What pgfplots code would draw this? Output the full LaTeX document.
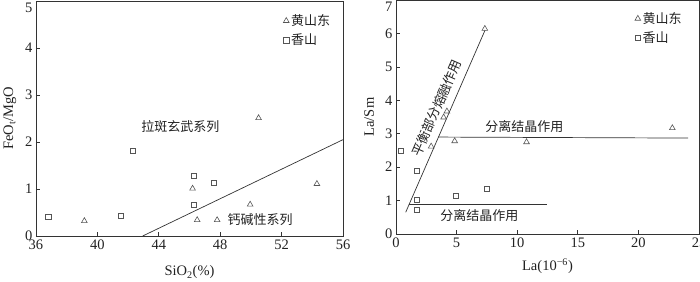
\documentclass[border=0pt]{standalone}
\usepackage{pgfplots}
\pgfplotsset{compat=1.18}
\usepackage{fontspec}
\setmainfont{Liberation Serif}
\newfontfamily\cjk{Noto Sans CJK SC}
\definecolor{mk}{HTML}{555555}
\definecolor{ln}{HTML}{333333}
\definecolor{tx}{HTML}{222222}
\newcommand{\tf}{\fontsize{14.5}{15}\selectfont}
\newcommand{\cf}{\cjk\fontsize{13}{14}\selectfont}
\pgfplotsset{
  myax/.style={
    scale only axis,
    axis line style={ln, line width=0.8pt},
    tick align=inside,
    xtick pos=bottom, ytick pos=left,
    major tick length=4pt,
    tick style={ln, line width=0.7pt},
    /pgf/number format/assume math mode=true,
    ticklabel style={font=\tf, text=tx},
    label style={font=\tf, text=tx},
    legend style={draw=none, fill=none, font=\cf, text=tx, row sep=3pt, nodes={inner sep=2pt}},
    legend cell align=left,
    legend image code/.code={\draw[##1,only marks] plot coordinates {(0pt,0pt)};},
    extra y tick style={yticklabel style={yshift=-7pt}},
  },
  tri/.style={only marks, mark=triangle, mark size=3.3pt, mark options={mk, line width=0.6pt}},
  sq/.style={only marks, mark=square, mark size=2.6pt, mark options={mk, line width=0.6pt}},
}
\begin{document}
\begin{tikzpicture}
\path[use as bounding box] (0,0) rectangle (700pt,281pt);
% ---------- left ----------
\begin{axis}[myax,
  at={(36pt,45pt)}, anchor=south west,
  width=307pt, height=235pt,
  xmin=36, xmax=56, ymin=0, ymax=5,
  xtick={36,40,44,48,52,56}, ytick={0,1,2,3,4},
  extra y ticks={5},
  xlabel={SiO\textsubscript{2}(\%)},
  ylabel={FeO\textsubscript{t}/MgO},
  xlabel style={at={(axis description cs:0.5,-0.155)}, anchor=center},
  ylabel style={at={(axis description cs:-0.085,0.5)}, anchor=center},
  legend style={at={(0.975,0.96)}, anchor=north east},
]
\addplot[tri] coordinates {(39.15,0.32) (46.2,1.01) (46.5,0.34) (47.8,0.34) (49.95,0.67) (50.5,2.51) (54.3,1.11)};
\addlegendentry{黄山东}
\addplot[sq] coordinates {(36.8,0.41) (41.5,0.43) (42.3,1.82) (46.3,1.28) (47.6,1.14) (46.3,0.67)};
\addlegendentry{香山}
\addplot[ln, line width=0.7pt, forget plot] coordinates {(42.95,0) (56,2.05)};
\node[font=\cf, text=tx] at (axis cs:45.4,2.33) {拉斑玄武系列};
\node[font=\cf, text=tx] at (axis cs:50.6,0.34) {钙碱性系列};
\end{axis}
% ---------- right ----------
\begin{axis}[myax,
  at={(396pt,47pt)}, anchor=south west,
  width=303pt, height=234pt,
  xmin=0, xmax=25, ymin=0, ymax=7,
  xtick={0,5,10,15,20,25}, ytick={0,1,2,3,4,5,6},
  extra y ticks={7},
  xlabel={La(10\textsuperscript{−6})},
  ylabel={La/Sm},
  xlabel style={at={(axis description cs:0.5,-0.137)}, anchor=center},
  ylabel style={at={(axis description cs:-0.089,0.5)}, anchor=center},
  legend style={at={(0.96,0.965)}, anchor=north east},
]
\addplot[tri] coordinates {(7.33,6.14) (3.93,3.49) (4.2,3.67) (2.9,2.62) (4.84,2.78) (10.77,2.75) (22.8,3.17)};
\addlegendentry{黄山东}
\addplot[sq] coordinates {(0.41,2.5) (1.7,1.88) (1.73,1.02) (1.73,0.73) (4.92,1.15) (7.5,1.35)};
\addlegendentry{香山}
\addplot[ln, line width=0.7pt, forget plot] coordinates {(0.8,0.65) (7.35,6.1)};
\addplot[ln, line width=0.7pt, forget plot] coordinates {(3.49,2.9) (24.1,2.87)};
\addplot[ln, line width=0.7pt, forget plot] coordinates {(1.04,0.9) (12.45,0.9)};
\node[font=\cf, text=tx] at (axis cs:10.6,3.2) {分离结晶作用};
\node[font=\cf, text=tx] at (axis cs:6.87,0.55) {分离结晶作用};
\node[font=\cf, text=tx, rotate=66.4] at (axis cs:3.35,3.77) {平衡部分熔融作用};
\end{axis}
\end{tikzpicture}
\end{document}
